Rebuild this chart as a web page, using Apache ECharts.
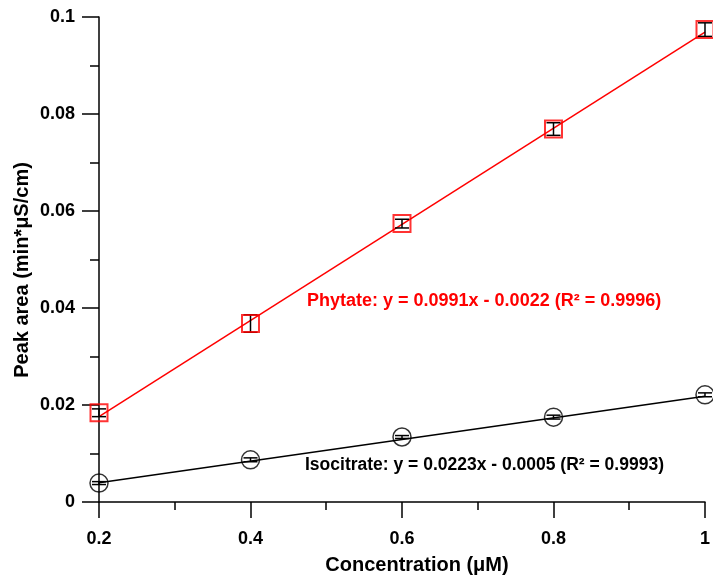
<!DOCTYPE html>
<html>
<head>
<meta charset="utf-8">
<script src="https://cdn.jsdelivr.net/npm/echarts@6/dist/echarts.min.js"></script>
<style>
  html, body { margin: 0; padding: 0; background: #fff; }
  #chart { width: 713px; height: 577px; }
</style>
</head>
<body>
<div id="chart"></div>
<script>
// Concentrations (µM)
const concentrations = [0.2, 0.4, 0.6, 0.8, 1.0];

// Phytate: mean peak area and error
const phytateArea = [0.0184, 0.0368, 0.0574, 0.0769, 0.0974];
const phytateErr  = [0.0008, 0.0018, 0.0009, 0.0013, 0.0014];
const phytateFit  = { slope: 0.0991, intercept: -0.0022 };

// Isocitrate: mean peak area and error
const isocitrateArea = [0.0039, 0.0087, 0.0134, 0.0175, 0.0221];
const isocitrateErr  = [0.0003, 0.0004, 0.0003, 0.0004, 0.0004];
const isocitrateFit  = { slope: 0.0223, intercept: -0.0005 };

const xTickLabels = ['0.2', '0.4', '0.6', '0.8', '1'];
const yTickLabels = ['0', '0.02', '0.04', '0.06', '0.08', '0.1'];

const FONT = 'Liberation Sans, Arial, sans-serif';

function points(ys) { return concentrations.map((x, i) => [x, ys[i]]); }
function errRows(ys, es) { return concentrations.map((x, i) => [x, ys[i] - es[i], ys[i] + es[i]]); }
function fitLine(f) {
  const x0 = concentrations[0], x1 = concentrations[concentrations.length - 1];
  return [[x0, f.slope * x0 + f.intercept], [x1, f.slope * x1 + f.intercept]];
}

function errorBar(color) {
  return function (params, api) {
    const lo = api.coord([api.value(0), api.value(1)]);
    const hi = api.coord([api.value(0), api.value(2)]);
    const hw = 7;
    const style = { stroke: color, lineWidth: 1.5, fill: null };
    return {
      type: 'group',
      children: [
        { type: 'line', shape: { x1: lo[0], y1: lo[1], x2: hi[0], y2: hi[1] }, style },
        { type: 'line', shape: { x1: lo[0] - hw, y1: lo[1], x2: lo[0] + hw, y2: lo[1] }, style },
        { type: 'line', shape: { x1: hi[0] - hw, y1: hi[1], x2: hi[0] + hw, y2: hi[1] }, style }
      ]
    };
  };
}

const chart = echarts.init(document.getElementById('chart'), null, { renderer: 'canvas' });

chart.setOption({
  animation: false,
  backgroundColor: '#ffffff',
  grid: { left: 99, right: 6, top: 17, bottom: 75, containLabel: false },
  xAxis: {
    type: 'value',
    min: 0.2, max: 1.0, interval: 0.2,
    axisLine: { onZero: false, lineStyle: { color: '#000', width: 1.5 } },
    axisTick: { show: true, length: 16, lineStyle: { color: '#000', width: 1.5 } },
    minorTick: { show: true, splitNumber: 2, length: 8, lineStyle: { color: '#000', width: 1.5 } },
    splitLine: { show: false },
    axisLabel: {
      margin: 28, fontFamily: FONT, fontWeight: 'bold', fontSize: 18, color: '#000',
      formatter: (v) => { const i = Math.round((v - 0.2) / 0.2); return xTickLabels[i] ?? ''; }
    }
  },
  yAxis: {
    type: 'value',
    min: 0, max: 0.1, interval: 0.02,
    axisLine: { onZero: false, lineStyle: { color: '#000', width: 1.5 } },
    axisTick: { show: true, length: 17, lineStyle: { color: '#000', width: 1.5 } },
    minorTick: { show: true, splitNumber: 2, length: 9, lineStyle: { color: '#000', width: 1.5 } },
    splitLine: { show: false },
    axisLabel: {
      margin: 24, fontFamily: FONT, fontWeight: 'bold', fontSize: 18, color: '#000',
      formatter: (v) => { const i = Math.round(v / 0.02); return yTickLabels[i] ?? ''; }
    }
  },
  graphic: [
    // axis titles
    {
      type: 'text', x: 417, y: 565, z: 100,
      style: {
        text: 'Concentration (\u03bcM)', fill: '#000', font: 'bold 20px ' + FONT,
        align: 'center', verticalAlign: 'middle'
      }
    },
    {
      type: 'text', x: 22, y: 270, rotation: Math.PI / 2, z: 100,
      style: {
        text: 'Peak area (min*\u03bcS/cm)', fill: '#000', font: 'bold 20px ' + FONT,
        align: 'center', verticalAlign: 'middle'
      }
    },
    // regression equations
    {
      type: 'text', x: 307, y: 301, z: 100,
      style: {
        text: 'Phytate: y = 0.0991x - 0.0022 (R\u00b2 = 0.9996)',
        fill: '#ff0000', font: 'bold 18px ' + FONT, verticalAlign: 'middle'
      }
    },
    {
      type: 'text', x: 305, y: 465, z: 100,
      style: {
        text: 'Isocitrate: y = 0.0223x - 0.0005 (R\u00b2 = 0.9993)',
        fill: '#000000', font: 'bold 17.5px ' + FONT, verticalAlign: 'middle'
      }
    }
  ],
  series: [
    {
      name: 'Phytate fit', type: 'line', data: fitLine(phytateFit),
      symbol: 'none', clip: false,
      lineStyle: { color: '#ff0000', width: 1.5 }, z: 3
    },
    {
      name: 'Isocitrate fit', type: 'line', data: fitLine(isocitrateFit),
      symbol: 'none', clip: false,
      lineStyle: { color: '#000000', width: 1.5 }, z: 3
    },
    {
      name: 'Phytate error', type: 'custom', data: errRows(phytateArea, phytateErr),
      renderItem: errorBar('#000000'), encode: { x: 0, y: [1, 2] }, clip: false, z: 4
    },
    {
      name: 'Isocitrate error', type: 'custom', data: errRows(isocitrateArea, isocitrateErr),
      renderItem: errorBar('#000000'), encode: { x: 0, y: [1, 2] }, clip: false, z: 4
    },
    {
      name: 'Phytate', type: 'scatter', data: points(phytateArea),
      symbol: 'rect', symbolSize: 17, clip: false,
      itemStyle: { color: 'rgba(0,0,0,0)', borderColor: '#ff0000', borderWidth: 2 }, z: 5
    },
    {
      name: 'Isocitrate', type: 'scatter', data: points(isocitrateArea),
      symbol: 'circle', symbolSize: 18, clip: false,
      itemStyle: { color: 'rgba(0,0,0,0)', borderColor: '#000000', borderWidth: 1.5 }, z: 5
    }
  ]
});
</script>
</body>
</html>
